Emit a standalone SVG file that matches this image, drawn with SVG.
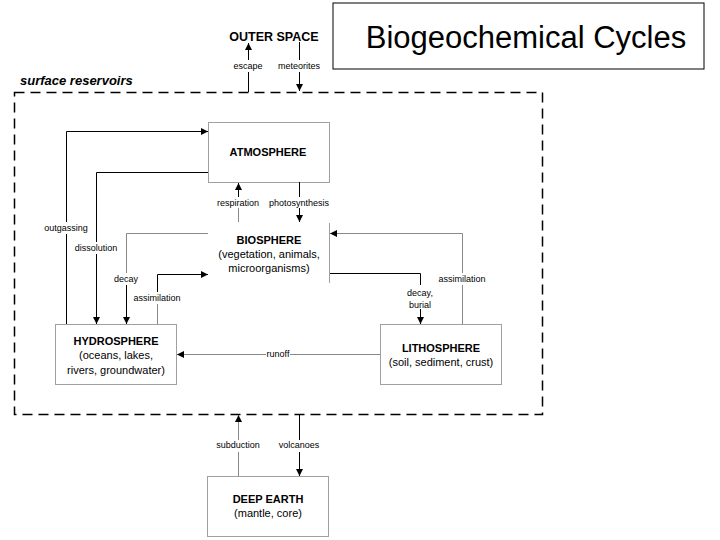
<svg xmlns="http://www.w3.org/2000/svg" width="720" height="540" viewBox="0 0 720 540">
<style>
text{font-family:"Liberation Sans",Arial,sans-serif;fill:#000}
.lbl{font-size:9px;text-anchor:middle}
.nt{font-size:11px;font-weight:bold;text-anchor:middle}
.nd{font-size:11px;text-anchor:middle}
.box{fill:#fff;stroke:#a0a0a0;stroke-width:1}
.k{fill:none;stroke:#000;stroke-width:1}
.g{fill:none;stroke:#888;stroke-width:1}
</style>
<defs>
<marker id="ah" viewBox="0 0 10 10" refX="10" refY="5" markerWidth="7" markerHeight="7" markerUnits="userSpaceOnUse" orient="auto"><path d="M0,0 L10,5 L0,10 z" fill="#000"/></marker>
</defs>
<rect width="720" height="540" fill="#fff"/>
<g id="title"><rect x="333" y="3" width="371" height="66" fill="#fff" stroke="#000"/><text x="526" y="48" font-size="31" text-anchor="middle">Biogeochemical Cycles</text></g>
<g id="surface"><rect x="14.5" y="92.5" width="528" height="322" fill="none" stroke="#000" stroke-width="1.5" stroke-dasharray="10,6"/><text x="20" y="85" font-size="13" font-weight="bold" font-style="italic">surface reservoirs</text></g>
<g id="outer-space"><text x="274" y="41" font-size="12.5" font-weight="bold" text-anchor="middle">OUTER SPACE</text></g>
<g id="atmosphere"><rect class="box" x="208.5" y="122.5" width="121" height="60"/><text class="nt" x="268" y="156">ATMOSPHERE</text></g>
<g id="biosphere"><line x1="329.5" y1="223" x2="329.5" y2="283" stroke="#a0a0a0"/><text class="nt" x="269" y="244">BIOSPHERE</text><text class="nd" x="269" y="258">(vegetation, animals,</text><text class="nd" x="269" y="272">microorganisms)</text></g>
<g id="hydrosphere"><rect class="box" x="55.5" y="324.5" width="121" height="60"/><text class="nt" x="116" y="345">HYDROSPHERE</text><text class="nd" x="116" y="359">(oceans, lakes,</text><text class="nd" x="116" y="374">rivers, groundwater)</text></g>
<g id="lithosphere"><rect class="box" x="380.5" y="324.5" width="121" height="60"/><text class="nt" x="441" y="352">LITHOSPHERE</text><text class="nd" x="441" y="366">(soil, sediment, crust)</text></g>
<g id="deep-earth"><rect class="box" x="207.5" y="476.5" width="121" height="60"/><text class="nt" x="268" y="503">DEEP EARTH</text><text class="nd" x="268" y="517">(mantle, core)</text></g>
<g id="connectors">
<path class="k" d="M248.5,92 V72"/><path class="k" d="M248.5,60 V43" marker-end="url(#ah)"/><text class="lbl" x="248" y="69">escape</text>
<path class="k" d="M299.5,42 V60"/><path class="k" d="M299.5,72 V91" marker-end="url(#ah)"/><text class="lbl" x="299" y="69">meteorites</text>
<path class="k" d="M66.5,324 V234"/><path class="k" d="M66.5,222 V131.5 H208" marker-end="url(#ah)"/><text class="lbl" x="66" y="231">outgassing</text>
<path class="k" d="M208,172.5 H96.5 V242"/><path class="k" d="M96.5,254 V324" marker-end="url(#ah)"/><text class="lbl" x="96" y="251">dissolution</text>
<path class="g" d="M208,233.5 H126.5 V273"/><path class="k" d="M126.5,285 V324" marker-end="url(#ah)"/><text class="lbl" x="126" y="282">decay</text>
<path class="g" d="M157.5,324 V304"/><path class="k" d="M157.5,292 V274.5 H208" marker-end="url(#ah)"/><text class="lbl" x="157" y="301">assimilation</text>
<path class="g" d="M380,354.5 H290"/><path class="g" d="M266,354.5 H177" marker-end="url(#ah)"/><text class="lbl" x="278" y="357">runoff</text>
<path class="g" d="M462.5,324 V285"/><path class="g" d="M462.5,273 V233.5 H330" marker-end="url(#ah)"/><text class="lbl" x="462" y="282">assimilation</text>
<path class="k" d="M330,273.5 H420.5 V285"/><path class="k" d="M420.5,309 V324" marker-end="url(#ah)"/><text class="lbl" x="420" y="296">decay,</text><text class="lbl" x="420" y="308">burial</text>
<path class="g" d="M238.5,222 V208"/><path class="k" d="M238.5,197 V183" marker-end="url(#ah)"/><text class="lbl" x="238" y="206">respiration</text>
<path class="k" d="M299.5,182 V197"/><path class="k" d="M299.5,208 V222" marker-end="url(#ah)"/><text class="lbl" x="299" y="206">photosynthesis</text>
<path class="g" d="M238.5,476 V452"/><path class="g" d="M238.5,440 V415" marker-end="url(#ah)"/><text class="lbl" x="238" y="448">subduction</text>
<path class="k" d="M299.5,414 V440"/><path class="k" d="M299.5,452 V476" marker-end="url(#ah)"/><text class="lbl" x="299" y="448">volcanoes</text>
</g>
</svg>
